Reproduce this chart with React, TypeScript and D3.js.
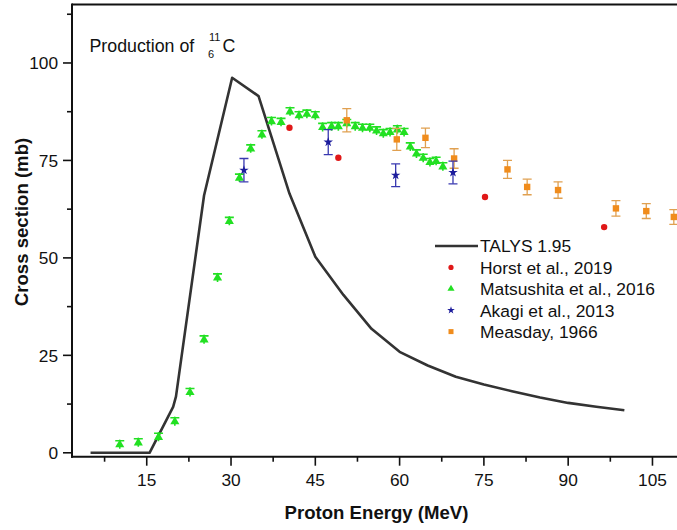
import React from "react";
import * as d3 from "d3";

const W = 677;
const H = 530;

// TALYS 1.95 calculation
const talysE = [5, 10, 15, 15.5, 19.7, 20.2, 25.2, 30.2, 34.9, 40.4, 45, 50, 55, 60, 65, 70, 75, 80, 85, 90, 95, 100];
const talysXS = [0, 0, 0, 0, 11.8, 14.4, 66, 96.2, 91.5, 66.5, 50.3, 40.5, 31.8, 25.9, 22.4, 19.5, 17.5, 15.8, 14.2, 12.8, 11.8, 10.9];

// Horst et al., 2019
const horstE = [40.4, 49.1, 75.2, 96.4];
const horstXS = [83.4, 75.7, 65.6, 57.9];

// Matsushita et al., 2016
const matsE = [10.2, 13.5, 17.1, 20.0, 22.7, 25.2, 27.6, 29.7, 31.5, 33.5, 35.5, 37.2, 38.9, 40.5, 42.1, 43.5, 45.0, 46.3, 47.9, 49.1, 50.6, 52.1, 53.4, 54.7, 55.9, 57.1, 58.3, 59.6, 60.8, 61.9, 63.0, 64.2, 65.4, 66.5, 67.7];
const matsXS = [2.2, 2.7, 4.1, 8.1, 15.6, 29.1, 45.0, 59.5, 70.6, 78.1, 81.7, 85.1, 84.9, 87.6, 86.6, 87.0, 86.6, 83.6, 83.8, 83.8, 84.6, 83.8, 83.4, 83.4, 82.7, 82.0, 82.3, 83.0, 82.3, 78.6, 76.8, 75.7, 74.6, 74.9, 73.5];

// Akagi et al., 2013
const akagiE = [32.3, 47.3, 59.3, 69.5];
const akagiXS = [72.5, 79.7, 71.2, 71.9];
const akagiErr = [3.0, 3.2, 2.9, 2.9];

// Measday, 1966
const measE = [50.6, 59.5, 64.6, 69.7, 79.2, 82.7, 88.2, 98.5, 103.9, 108.8];
const measXS = [85.3, 80.4, 80.8, 75.5, 72.7, 68.2, 67.4, 62.7, 62.0, 60.5];
const measErr = [3.0, 2.8, 2.5, 2.5, 2.3, 2.0, 2.1, 2.0, 1.9, 1.9];

const xMajor = [15, 30, 45, 60, 75, 90, 105];
const xMinor = [7.5, 22.5, 37.5, 52.5, 67.5, 82.5, 97.5];
const yMajor = [0, 25, 50, 75, 100];
const yMinor = [12.5, 37.5, 62.5, 87.5, 112.5];

const legendLabels = ["TALYS 1.95", "Horst et al., 2019", "Matsushita et al., 2016", "Akagi et al., 2013", "Measday, 1966"];

const FONT = "Arial, 'Liberation Sans', sans-serif";
const C_TALYS = "#333333";
const C_RED = "#e01818";
const C_GREEN = "#22e022";
const C_BLUE = "#1c1c9c";
const C_BLUE_ERR = "#3838b0";
const C_ORANGE = "#f08c1c";
const C_ORANGE_ERR = "#e0a050";

const PL = 72, PR = 680, PT = 4.5, PB = 456.7;

export default function App() {
  const x = d3.scaleLinear().domain([1.7, 109.9]).range([PL, PR]);
  const y = d3.scaleLinear().domain([-1, 115]).range([PB, PT]);
  const line = d3.line<number>().x((_, i) => x(talysE[i])).y((d) => y(d));
  const star = d3.symbol().type(d3.symbolStar).size(28)();
  const starSmall = d3.symbol().type(d3.symbolStar).size(18)();
  const tri = d3.symbol().type(d3.symbolTriangle).size(36)();
  const triSmall = d3.symbol().type(d3.symbolTriangle).size(22)();

  const legendX = 435;
  const legendY0 = 246;
  const legendDy = 21.4;

  return (
    <svg width={W} height={H} style={{ position: "absolute", left: 0, top: 0, background: "#fff" }} fontFamily={FONT}>
      <rect x={0} y={0} width={W} height={H} fill="#fff" />
      <defs>
        <clipPath id="plotclip">
          <rect x={PL} y={PT} width={PR - PL} height={PB - PT} />
        </clipPath>
      </defs>

      {/* title */}
      <text x={89.5} y={52} fontSize={17.8} fill="#111">Production of</text>
      <text x={209} y={41} fontSize={11} fill="#111">11</text>
      <text x={208} y={57.5} fontSize={11} fill="#111">6</text>
      <text x={222.5} y={52} fontSize={17.8} fill="#111">C</text>

      <g clipPath="url(#plotclip)">
        {/* TALYS */}
        <path d={line(talysXS) || ""} fill="none" stroke={C_TALYS} strokeWidth={2.6} strokeLinejoin="round" />

        {/* Matsushita */}
        {matsE.map((e, i) => {
          const cx = x(e), cy = y(matsXS[i]);
          return (
            <g key={"m" + i}>
              <line x1={cx} x2={cx} y1={cy - 4.5} y2={cy + 4.5} stroke={C_GREEN} strokeWidth={1.6} />
              <line x1={cx - 4.5} x2={cx + 4.5} y1={cy - 3.5} y2={cy - 3.5} stroke={C_GREEN} strokeWidth={1.6} />
              <path d={tri} transform={`translate(${cx},${cy + 0.5})`} fill={C_GREEN} />
            </g>
          );
        })}

        {/* Horst */}
        {horstE.map((e, i) => (
          <circle key={"h" + i} cx={x(e)} cy={y(horstXS[i])} r={3.2} fill={C_RED} />
        ))}

        {/* Measday */}
        {measE.map((e, i) => {
          const cx = x(e), y1 = y(measXS[i] + measErr[i]), y2 = y(measXS[i] - measErr[i]);
          return (
            <g key={"me" + i}>
              <line x1={cx} x2={cx} y1={y1} y2={y2} stroke={C_ORANGE_ERR} strokeWidth={1.3} />
              <line x1={cx - 4.5} x2={cx + 4.5} y1={y1} y2={y1} stroke={C_ORANGE_ERR} strokeWidth={1.3} />
              <line x1={cx - 4.5} x2={cx + 4.5} y1={y2} y2={y2} stroke={C_ORANGE_ERR} strokeWidth={1.3} />
              <rect x={cx - 3.2} y={y(measXS[i]) - 3.2} width={6.4} height={6.4} fill={C_ORANGE} />
            </g>
          );
        })}

        {/* Akagi */}
        {akagiE.map((e, i) => {
          const cx = x(e), y1 = y(akagiXS[i] + akagiErr[i]), y2 = y(akagiXS[i] - akagiErr[i]);
          return (
            <g key={"a" + i}>
              <line x1={cx} x2={cx} y1={y1} y2={y2} stroke={C_BLUE_ERR} strokeWidth={1.3} />
              <line x1={cx - 4.5} x2={cx + 4.5} y1={y1} y2={y1} stroke={C_BLUE_ERR} strokeWidth={1.3} />
              <line x1={cx - 4.5} x2={cx + 4.5} y1={y2} y2={y2} stroke={C_BLUE_ERR} strokeWidth={1.3} />
              <path d={star} transform={`translate(${cx},${y(akagiXS[i])})`} fill={C_BLUE} />
            </g>
          );
        })}
      </g>

      {/* axes frame */}
      <line x1={PL} x2={PR} y1={PT} y2={PT} stroke="#111" strokeWidth={2} />
      <line x1={PL} x2={PL} y1={PT - 1} y2={PB + 1} stroke="#111" strokeWidth={2} />
      <line x1={PL - 1} x2={PR} y1={PB} y2={PB} stroke="#111" strokeWidth={2} />

      {/* x ticks */}
      {xMajor.map((v) => (
        <g key={"xt" + v}>
          <line x1={x(v)} x2={x(v)} y1={PB} y2={PB + 9} stroke="#111" strokeWidth={1.6} />
          <text x={x(v)} y={485.5} fontSize={17.3} textAnchor="middle" fill="#111">{v}</text>
        </g>
      ))}
      {xMinor.map((v) => (
        <line key={"xm" + v} x1={x(v)} x2={x(v)} y1={PB} y2={PB + 5} stroke="#111" strokeWidth={1.6} />
      ))}

      {/* y ticks */}
      {yMajor.map((v) => (
        <g key={"yt" + v}>
          <line x1={PL} x2={PL - 9} y1={y(v)} y2={y(v)} stroke="#111" strokeWidth={1.6} />
          <text x={58} y={y(v) + 6.2} fontSize={17.3} textAnchor="end" fill="#111">{v}</text>
        </g>
      ))}
      {yMinor.map((v) => (
        <line key={"ym" + v} x1={PL} x2={PL - 5} y1={y(v)} y2={y(v)} stroke="#111" strokeWidth={1.6} />
      ))}

      {/* axis labels */}
      <text x={376.5} y={518.5} fontSize={18.6} fontWeight="bold" textAnchor="middle" fill="#111">Proton Energy (MeV)</text>
      <text transform={`translate(27.5,222) rotate(-90)`} fontSize={18.6} fontWeight="bold" textAnchor="middle" fill="#111">Cross section (mb)</text>

      {/* legend */}
      <g>
        <line x1={legendX} x2={legendX + 43} y1={legendY0} y2={legendY0} stroke={C_TALYS} strokeWidth={2.6} />
        <circle cx={451} cy={legendY0 + legendDy} r={2.6} fill={C_RED} />
        <path d={triSmall} transform={`translate(451,${legendY0 + 2 * legendDy})`} fill={C_GREEN} />
        <path d={starSmall} transform={`translate(451,${legendY0 + 3 * legendDy})`} fill={C_BLUE} />
        <rect x={448.5} y={legendY0 + 4 * legendDy - 2.5} width={5} height={5} fill={C_ORANGE} />
        {legendLabels.map((l, i) => (
          <text key={l} x={480} y={legendY0 + i * legendDy + 6.3} fontSize={17.4} fill="#111">{l}</text>
        ))}
      </g>
    </svg>
  );
}
